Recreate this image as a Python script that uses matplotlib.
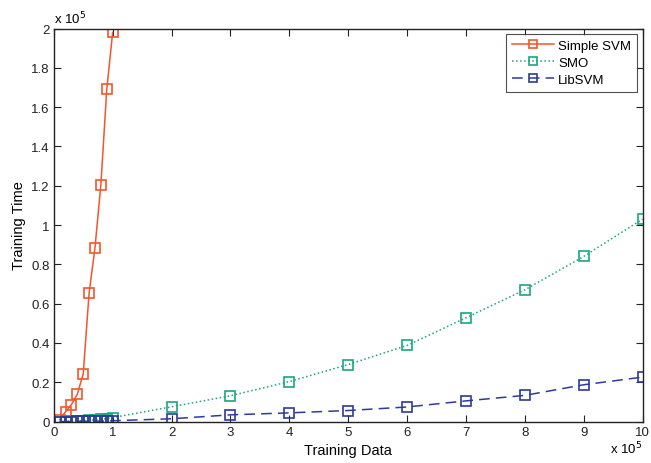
import numpy as np
import matplotlib
matplotlib.use("Agg")
from matplotlib import pyplot as plt

# data in units of 1e5
simple_x = [0.1, 0.2, 0.3, 0.4, 0.5, 0.6, 0.7, 0.8, 0.9, 1.0]
simple_y = [0.01, 0.05, 0.086, 0.139, 0.242, 0.654, 0.885, 1.205, 1.69, 1.98]

smo_x = [0.1, 0.2, 0.3, 0.4, 0.5, 0.6, 0.7, 0.8, 0.9, 1.0, 2, 3, 4, 5, 6, 7, 8, 9, 10]
smo_y = [0.0, 0.001, 0.002, 0.003, 0.004, 0.006, 0.008, 0.011, 0.015, 0.02,
         0.075, 0.131, 0.203, 0.290, 0.387, 0.528, 0.670, 0.840, 1.030]

lib_x = [0.1, 0.2, 0.3, 0.4, 0.5, 0.6, 0.7, 0.8, 0.9, 1.0, 2, 3, 4, 5, 6, 7, 8, 9, 10]
lib_y = [0.0, 0.0, 0.0, 0.001, 0.001, 0.001, 0.002, 0.002, 0.003, 0.004,
         0.014, 0.034, 0.044, 0.056, 0.074, 0.105, 0.133, 0.187, 0.226]

x_ticks = [0, 1, 2, 3, 4, 5, 6, 7, 8, 9, 10]
y_ticks = [0, 0.2, 0.4, 0.6, 0.8, 1, 1.2, 1.4, 1.6, 1.8, 2]

plt.rcParams['font.family'] = ['Liberation Sans', 'DejaVu Sans']
plt.rcParams['font.size'] = 9

fig = plt.figure(figsize=(6.51, 4.64), dpi=100)
ax = fig.add_axes([0.0826, 0.0894, 0.9044, 0.8470])

ms = 6.5
ax.plot(simple_x, simple_y, '-', color='#f2562b', lw=1.1, marker='s', ms=ms,
        mfc='none', mec='#f2562b', mew=1.2, label='Simple SVM')
ax.plot(smo_x, smo_y, ':', color='#1aa67e', lw=1.1, marker='s', ms=ms,
        mfc='none', mec='#1aa67e', mew=1.2, label='SMO')
ax.plot(lib_x, lib_y, '--', color='#2e3a99', lw=1.1, marker='s', ms=ms,
        mfc='none', mec='#2e3a99', mew=1.2, label='LibSVM', dashes=(7, 4))

ax.set_xlim(0, 10)
ax.set_ylim(0, 2)
ax.set_xticks(x_ticks)
ax.set_xticklabels([str(t) for t in x_ticks])
ax.set_yticks(y_ticks)
ax.set_yticklabels(['0', '0.2', '0.4', '0.6', '0.8', '1', '1.2', '1.4', '1.6', '1.8', '2'])
ax.tick_params(direction='in', top=True, right=True, length=5, width=0.8,
               labelsize=9.5, colors='#222222', pad=3)
for s in ax.spines.values():
    s.set_linewidth(1.0)
    s.set_color('#222222')

ax.set_xlabel('Training Data', fontsize=10.5, labelpad=4)
ax.set_ylabel('Training Time', fontsize=10.5, labelpad=4)

ax.text(0.0, 1.005, r'x 10$^5$', transform=ax.transAxes, ha='left', va='bottom', fontsize=9.5)
ax.text(1.0, -0.045, r'x 10$^5$', transform=ax.transAxes, ha='right', va='top', fontsize=9.5)

leg = ax.legend(loc='upper right', fontsize=9.5, fancybox=False, edgecolor='#222222',
                borderaxespad=0.4, handlelength=3.2, handletextpad=0.3,
                labelspacing=0.35, borderpad=0.45, markerscale=0.85)
leg.get_frame().set_linewidth(0.8)

fig.savefig('out.png', dpi=100)
